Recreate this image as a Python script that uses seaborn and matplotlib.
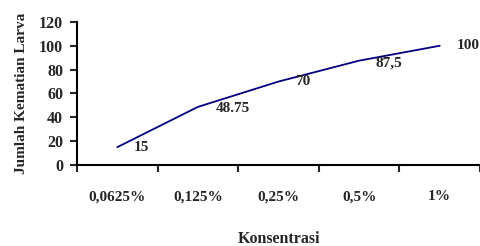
import matplotlib
matplotlib.use("Agg")
import matplotlib.pyplot as plt
import seaborn as sns
import numpy as np

konsentrasi = ["0,0625%", "0,125%", "0,25%", "0,5%", "1%"]
kematian = [15, 48.75, 70, 87.5, 100]
label_titik = ["15", "48.75", "70", "87,5", "100"]

sns.set_style("white")
plt.rcParams["font.family"] = ["Liberation Serif", "DejaVu Serif"]
plt.rcParams["font.weight"] = "bold"

fig = plt.figure(figsize=(4.81, 2.46), dpi=100)
ax = fig.add_axes([0.160, 0.329, 0.838, 0.582])

sns.lineplot(x=konsentrasi, y=kematian, sort=False, color="#000080",
             linewidth=1.3, ax=ax)

geser = [(12, 0), (13, -1), (12, 0), (12, -2), (12, 0)]
for i, (v, t) in enumerate(zip(kematian, label_titik)):
    ax.annotate(t, (i, v), textcoords="offset points", xytext=geser[i],
                ha="left", va="center", fontsize=11, fontweight="bold")

ax.set_xlim(-0.5, 4.5)
ax.set_ylim(0, 120)
ax.set_yticks(range(0, 121, 20))
ax.set_xticks(range(len(konsentrasi)))
ax.set_xticklabels(konsentrasi, fontsize=11, fontweight="bold")
ax.set_xticks(np.arange(-0.5, 4.6, 1), minor=True)
ax.tick_params(axis="x", which="major", length=0, pad=18)
ax.tick_params(axis="x", which="minor", length=5, width=1.5, direction="out", bottom=True)
ax.tick_params(axis="y", length=5, width=1.5, direction="out", left=True, labelsize=11.5, pad=5)
for lbl in ax.get_yticklabels():
    lbl.set_fontweight("bold")

for s in ["top", "right"]:
    ax.spines[s].set_visible(False)
for s in ["left", "bottom"]:
    ax.spines[s].set_color("black")
    ax.spines[s].set_linewidth(1.5)

ax.set_xlabel("Konsentrasi", fontsize=11.5, fontweight="bold", labelpad=20)
ax.set_ylabel("Jumlah Kematian Larva", fontsize=11, fontweight="bold", labelpad=8)

fig.savefig("out.png", dpi=100)
